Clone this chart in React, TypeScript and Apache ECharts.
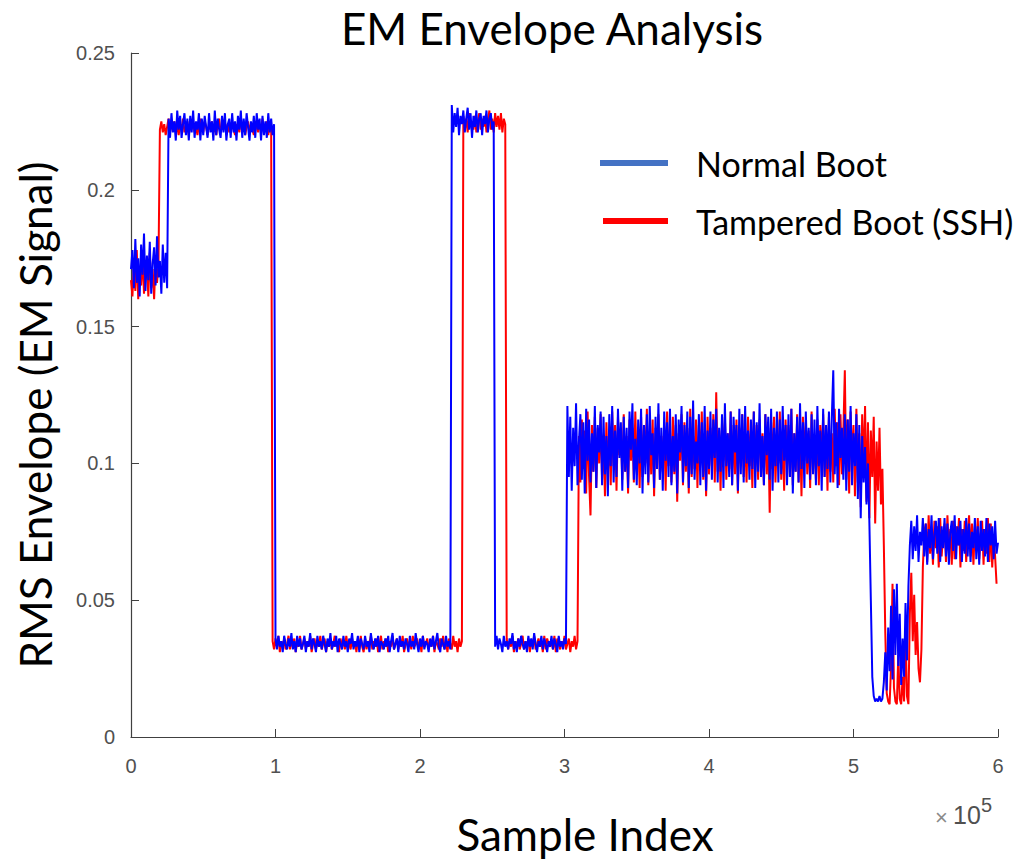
import React, { useEffect, useRef } from "react";
import * as echarts from "echarts";

// Sample index step (samples between consecutive envelope readings)
const STEP = 1000;
const X_MAX = 600000;
const X_INTERVAL = 100000;
const Y_MAX = 0.25;
const Y_INTERVAL = 0.05;

const TITLE = "EM Envelope Analysis";
const X_NAME = "Sample Index";
const Y_NAME = "RMS Envelope (EM Signal)";
const SERIES_NAMES = ["Normal Boot", "Tampered Boot (SSH)"];

// ---- Normal Boot: each segment starts at blueStarts[i], one reading every STEP samples
const blueSeg1: number[] = [
  0.171, 0.178, 0.164, 0.182, 0.166, 0.175, 0.161, 0.180, 0.169, 0.184,
  0.163, 0.176, 0.167, 0.181, 0.162, 0.173, 0.179, 0.165, 0.183, 0.168,
  0.174, 0.162, 0.180, 0.166, 0.177, 0.164,
];
const blueSeg2: number[] = [
  0.226, 0.219, 0.228, 0.221, 0.225, 0.218, 0.229, 0.222, 0.227, 0.219,
  0.224, 0.228, 0.220, 0.226, 0.218, 0.227, 0.221, 0.229, 0.219, 0.225,
  0.222, 0.228, 0.218, 0.226, 0.220, 0.227, 0.223, 0.219, 0.228, 0.221,
  0.225, 0.218, 0.229, 0.220, 0.226, 0.222, 0.219, 0.227, 0.221, 0.228,
  0.218, 0.224, 0.226, 0.219, 0.228, 0.221, 0.225, 0.218, 0.227, 0.222,
  0.229, 0.219, 0.226, 0.220, 0.228, 0.223, 0.218, 0.225, 0.221, 0.227,
  0.219, 0.228, 0.222, 0.226, 0.218, 0.227, 0.220, 0.225, 0.219, 0.228,
  0.221, 0.226, 0.220, 0.224,
];
const blueSeg3: number[] = [
  0.036, 0.032, 0.037, 0.033, 0.035, 0.031, 0.037, 0.034, 0.032, 0.036,
  0.033, 0.038, 0.032, 0.035, 0.031, 0.037, 0.033, 0.036, 0.032, 0.034,
  0.037, 0.031, 0.035, 0.033, 0.038, 0.032, 0.036, 0.034, 0.031, 0.037,
  0.033, 0.035, 0.032, 0.037, 0.034, 0.031, 0.036, 0.033, 0.038, 0.032,
  0.035, 0.033, 0.037, 0.031, 0.036, 0.034, 0.032, 0.037, 0.033, 0.035,
  0.031, 0.036, 0.034, 0.038, 0.032, 0.035, 0.033, 0.037, 0.031, 0.036,
  0.034, 0.032, 0.037, 0.033, 0.035, 0.031, 0.038, 0.034, 0.032, 0.036,
  0.033, 0.037, 0.031, 0.035, 0.034, 0.032, 0.036, 0.033, 0.037, 0.031,
  0.035, 0.038, 0.032, 0.034, 0.036, 0.031, 0.037, 0.033, 0.035, 0.032,
  0.036, 0.034, 0.031, 0.037, 0.033, 0.035, 0.032, 0.038, 0.034, 0.031,
  0.036, 0.033, 0.037, 0.032, 0.035, 0.034, 0.031, 0.036, 0.033, 0.037,
  0.032, 0.035, 0.038, 0.033, 0.031, 0.036, 0.034, 0.032, 0.037, 0.033,
  0.035, 0.032,
];
const blueSeg4: number[] = [
  0.231, 0.221, 0.228, 0.223, 0.230, 0.220, 0.227, 0.224, 0.229, 0.221,
  0.226, 0.230, 0.222, 0.228, 0.219, 0.227, 0.223, 0.229, 0.221, 0.226,
  0.228, 0.220, 0.227, 0.224, 0.229, 0.221, 0.226, 0.228, 0.222, 0.225,
];
const blueSeg5: number[] = [
  0.033, 0.037, 0.032, 0.036, 0.034, 0.031, 0.037, 0.033, 0.035, 0.032,
  0.036, 0.034, 0.038, 0.032, 0.035, 0.031, 0.036, 0.033, 0.037, 0.034,
  0.032, 0.035, 0.031, 0.037, 0.033, 0.036, 0.032, 0.038, 0.034, 0.031,
  0.035, 0.033, 0.037, 0.032, 0.036, 0.034, 0.031, 0.035, 0.033, 0.037,
  0.032, 0.036, 0.034, 0.031, 0.037, 0.033, 0.035, 0.032, 0.036, 0.034,
];
const blueSeg6: number[] = [
  0.121, 0.095, 0.117, 0.090, 0.113, 0.099, 0.122, 0.092, 0.108, 0.118,
  0.094, 0.115, 0.089, 0.120, 0.101, 0.116, 0.093, 0.111, 0.097, 0.121,
  0.091, 0.114, 0.104, 0.119, 0.092, 0.117, 0.096, 0.110, 0.088, 0.118,
  0.099, 0.121, 0.093, 0.112, 0.095, 0.120, 0.102, 0.115, 0.090, 0.117,
  0.097, 0.113, 0.091, 0.119, 0.105, 0.122, 0.094, 0.109, 0.092, 0.116,
  0.100, 0.120, 0.089, 0.114, 0.096, 0.118, 0.093, 0.121, 0.103, 0.111,
  0.091, 0.117, 0.098, 0.122, 0.094, 0.113, 0.090, 0.119, 0.101, 0.115,
  0.095, 0.120, 0.092, 0.110, 0.097, 0.118, 0.089, 0.116, 0.104, 0.121,
  0.093, 0.114, 0.099, 0.119, 0.091, 0.117, 0.096, 0.123, 0.094, 0.108,
  0.100, 0.118, 0.092, 0.115, 0.095, 0.121, 0.090, 0.112, 0.098, 0.119,
  0.094, 0.116, 0.102, 0.120, 0.093, 0.113, 0.097, 0.118, 0.091, 0.122,
  0.099, 0.111, 0.095, 0.119, 0.092, 0.117, 0.104, 0.114, 0.090, 0.120,
  0.096, 0.118, 0.093, 0.121, 0.100, 0.112, 0.094, 0.116, 0.098, 0.119,
  0.091, 0.115, 0.097, 0.122, 0.095, 0.110, 0.092, 0.118, 0.103, 0.117,
  0.094, 0.120, 0.090, 0.113, 0.099, 0.119, 0.093, 0.116, 0.096, 0.121,
  0.101, 0.114, 0.092, 0.118, 0.095, 0.120, 0.089, 0.111, 0.097, 0.117,
  0.093, 0.122, 0.098, 0.115, 0.091, 0.119, 0.100, 0.113, 0.094, 0.118,
  0.096, 0.116, 0.092, 0.121, 0.099, 0.112, 0.090, 0.120, 0.095, 0.114,
  0.098, 0.119, 0.093, 0.117, 0.134, 0.096, 0.115, 0.091, 0.120, 0.102,
  0.113, 0.094, 0.118, 0.090, 0.116, 0.097, 0.121, 0.092, 0.111, 0.099,
  0.118, 0.087, 0.114, 0.080, 0.110, 0.093, 0.106, 0.085,
  0.100, 0.078, 0.050, 0.022, 0.015, 0.013, 0.014, 0.013, 0.015, 0.013,
  0.014, 0.020, 0.031, 0.017, 0.040, 0.024, 0.048, 0.021, 0.054, 0.030,
  0.056, 0.026, 0.045, 0.019, 0.036, 0.022, 0.049, 0.028, 0.055, 0.070,
];
const blueSeg7: number[] = [
  0.079, 0.065, 0.077, 0.068, 0.081, 0.064, 0.075, 0.070, 0.080, 0.066,
  0.078, 0.063, 0.076, 0.069, 0.081, 0.065, 0.074, 0.079, 0.067, 0.080,
  0.064, 0.077, 0.069, 0.080, 0.066, 0.078, 0.063, 0.075, 0.079, 0.068,
  0.081, 0.065, 0.077, 0.070, 0.079, 0.064, 0.076, 0.067, 0.080, 0.066,
  0.078, 0.064, 0.075, 0.069, 0.080, 0.065, 0.077, 0.063, 0.079, 0.068,
  0.076, 0.066, 0.080, 0.064, 0.078, 0.070, 0.077, 0.065, 0.079, 0.067,
  0.071,
];
const blueStarts: number[] = [0, 26000, 100000, 222000, 252000, 302000, 540000];
const blueSegs: number[][] = [blueSeg1, blueSeg2, blueSeg3, blueSeg4, blueSeg5, blueSeg6, blueSeg7];

// ---- Tampered Boot (SSH)
const redSeg1: number[] = [
  0.167, 0.161, 0.174, 0.163, 0.178, 0.160, 0.170, 0.165, 0.176, 0.162,
  0.169, 0.173, 0.161, 0.177, 0.164, 0.171, 0.160, 0.175, 0.166, 0.172,
];
const redSeg2: number[] = [
  0.222, 0.225, 0.221, 0.224, 0.220, 0.223, 0.226, 0.221, 0.224, 0.222,
  0.225, 0.221, 0.223, 0.220, 0.224, 0.222, 0.226, 0.221, 0.223, 0.225,
  0.220, 0.224, 0.222, 0.225, 0.221, 0.223, 0.220, 0.224, 0.226, 0.222,
  0.221, 0.225, 0.223, 0.220, 0.224, 0.222, 0.225, 0.221, 0.223, 0.220,
  0.224, 0.226, 0.221, 0.223, 0.222, 0.225, 0.220, 0.224, 0.221, 0.223,
  0.225, 0.222, 0.220, 0.224, 0.223, 0.221, 0.226, 0.222, 0.224, 0.220,
  0.223, 0.225, 0.221, 0.224, 0.222, 0.220, 0.225, 0.223, 0.221, 0.224,
  0.222, 0.226, 0.221, 0.223, 0.225, 0.220, 0.224, 0.222,
];
const redSeg3: number[] = [
  0.035, 0.032, 0.036, 0.033, 0.037, 0.031, 0.035, 0.033, 0.036, 0.032,
  0.034, 0.037, 0.032, 0.035, 0.033, 0.036, 0.031, 0.035, 0.033, 0.037,
  0.032, 0.034, 0.036, 0.032, 0.035, 0.033, 0.037, 0.031, 0.034, 0.036,
  0.032, 0.035, 0.033, 0.037, 0.032, 0.034, 0.036, 0.031, 0.035, 0.033,
  0.036, 0.032, 0.034, 0.037, 0.033, 0.035, 0.031, 0.036, 0.033, 0.035,
  0.032, 0.037, 0.033, 0.034, 0.032, 0.036, 0.033, 0.035, 0.031, 0.036,
  0.032, 0.037, 0.033, 0.031, 0.036, 0.032, 0.035, 0.034, 0.037, 0.032,
  0.035, 0.033, 0.036, 0.031, 0.034, 0.037, 0.032, 0.035, 0.033, 0.036,
  0.031, 0.035, 0.033, 0.037, 0.032, 0.034, 0.036, 0.032, 0.035, 0.033,
  0.037, 0.031, 0.034, 0.036, 0.033, 0.035, 0.032, 0.037, 0.033, 0.034,
  0.036, 0.032, 0.035, 0.031, 0.037, 0.033, 0.034, 0.036, 0.032, 0.035,
  0.033, 0.037, 0.031, 0.035, 0.034, 0.032, 0.036, 0.033, 0.037, 0.032,
  0.035, 0.031, 0.036, 0.034, 0.032, 0.037, 0.033, 0.035, 0.031, 0.036,
  0.033, 0.035,
];
const redSeg4: number[] = [
  0.227, 0.222, 0.226, 0.221, 0.228, 0.223, 0.225, 0.222, 0.227, 0.221,
  0.224, 0.228, 0.222, 0.226, 0.223, 0.227, 0.221, 0.225, 0.229, 0.222,
  0.226, 0.221, 0.228, 0.223, 0.227, 0.222, 0.228, 0.221, 0.226, 0.224,
];
const redSeg5: number[] = [
  0.036, 0.032, 0.035, 0.033, 0.037, 0.031, 0.035, 0.033, 0.036, 0.032,
  0.034, 0.037, 0.032, 0.035, 0.033, 0.036, 0.031, 0.035, 0.033, 0.037,
  0.032, 0.034, 0.036, 0.033, 0.035, 0.031, 0.037, 0.032, 0.036, 0.034,
  0.033, 0.035, 0.032, 0.037, 0.031, 0.036, 0.034, 0.032, 0.035, 0.033,
  0.037, 0.032, 0.034, 0.036, 0.031, 0.035, 0.033, 0.037, 0.032, 0.035,
];
const redSeg6: number[] = [
  0.110, 0.093, 0.116, 0.098, 0.112, 0.089, 0.119, 0.095, 0.081, 0.114,
  0.097, 0.117, 0.091, 0.113, 0.100, 0.118, 0.094, 0.109, 0.088, 0.115,
  0.096, 0.112, 0.092, 0.119, 0.099, 0.114, 0.090, 0.117, 0.103, 0.111,
  0.094, 0.118, 0.097, 0.110, 0.089, 0.116, 0.101, 0.113, 0.093, 0.119,
  0.098, 0.111, 0.091, 0.117, 0.095, 0.114, 0.100, 0.120, 0.092, 0.112,
  0.096, 0.116, 0.088, 0.113, 0.102, 0.118, 0.094, 0.110, 0.097, 0.115,
  0.090, 0.119, 0.099, 0.112, 0.093, 0.117, 0.096, 0.114, 0.086, 0.111,
  0.101, 0.118, 0.092, 0.115, 0.097, 0.113, 0.089, 0.120, 0.095, 0.110,
  0.098, 0.116, 0.091, 0.114, 0.100, 0.119, 0.094, 0.111, 0.088, 0.117,
  0.096, 0.113, 0.099, 0.118, 0.093, 0.126, 0.097, 0.112, 0.090, 0.115,
  0.101, 0.117, 0.094, 0.111, 0.098, 0.119, 0.092, 0.114, 0.096, 0.116,
  0.089, 0.113, 0.100, 0.118, 0.095, 0.110, 0.093, 0.117, 0.099, 0.112,
  0.091, 0.119, 0.097, 0.114, 0.094, 0.116, 0.101, 0.111, 0.092, 0.118,
  0.096, 0.113, 0.082, 0.115, 0.098, 0.117, 0.093, 0.110, 0.100, 0.119,
  0.094, 0.112, 0.090, 0.116, 0.099, 0.114, 0.095, 0.120, 0.092, 0.111,
  0.097, 0.118, 0.093, 0.113, 0.088, 0.117, 0.101, 0.115, 0.096, 0.112,
  0.091, 0.119, 0.098, 0.110, 0.094, 0.116, 0.092, 0.114, 0.100, 0.118,
  0.095, 0.113, 0.090, 0.117, 0.097, 0.111, 0.093, 0.120, 0.099, 0.115,
  0.092, 0.118, 0.096, 0.112, 0.134, 0.094, 0.116, 0.089, 0.119, 0.100,
  0.114, 0.088, 0.120, 0.093, 0.111, 0.084, 0.118, 0.097, 0.121, 0.086,
  0.115, 0.080, 0.112, 0.095, 0.117, 0.078, 0.108, 0.090, 0.113, 0.085,
  0.098, 0.070, 0.038, 0.016, 0.013, 0.012, 0.026, 0.056, 0.018, 0.013,
  0.012, 0.030, 0.014, 0.012, 0.022, 0.013, 0.040, 0.015, 0.012, 0.045,
  0.060, 0.035, 0.052, 0.030, 0.042, 0.025, 0.020, 0.032, 0.062, 0.075,
];
const redSeg7: number[] = [
  0.078, 0.064, 0.081, 0.067, 0.075, 0.063, 0.079, 0.069, 0.077, 0.062,
  0.080, 0.066, 0.074, 0.078, 0.064, 0.081, 0.068, 0.076, 0.063, 0.079,
  0.065, 0.077, 0.070, 0.080, 0.062, 0.076, 0.068, 0.079, 0.064, 0.075,
  0.081, 0.066, 0.078, 0.063, 0.077, 0.069, 0.080, 0.065, 0.074, 0.079,
  0.063, 0.076, 0.067, 0.080, 0.064, 0.078, 0.062, 0.073, 0.066, 0.056,
];
const redStarts: number[] = [0, 20000, 98000, 230000, 260000, 310000, 550000];
const redSegs: number[][] = [redSeg1, redSeg2, redSeg3, redSeg4, redSeg5, redSeg6, redSeg7];

function buildSeries(starts: number[], segs: number[][]): [number, number][] {
  const out: [number, number][] = [];
  segs.forEach((vals, s) => {
    vals.forEach((v, k) => out.push([starts[s] + k * STEP, v]));
  });
  return out;
}

const LABEL_FONT = "Lato, 'Open Sans', sans-serif";
const TICK_FONT = "'Liberation Sans', Arial, sans-serif";

export default function App() {
  const ref = useRef<HTMLDivElement>(null);
  useEffect(() => {
    if (!ref.current) return;
    const chart = echarts.init(ref.current, undefined, { renderer: "svg" });
    const blueData = buildSeries(blueStarts, blueSegs);
    const redData = buildSeries(redStarts, redSegs);
    const axisColor = "#404040";
    const tickColor = "#505050";
    const txt = (text: string, x: number, y: number, font: string, fill: string, align: string, rotation = 0) => ({
      type: "text",
      x,
      y,
      rotation,
      silent: true,
      style: {
        text,
        font,
        fill,
        align,
        verticalAlign: "middle",
        textAlign: align,
        textVerticalAlign: "middle",
      },
    });
    chart.setOption({
      animation: false,
      backgroundColor: "#ffffff",
      grid: { left: 131, right: 27, top: 53, bottom: 125, containLabel: false },
      xAxis: {
        type: "value",
        min: 0,
        max: X_MAX,
        interval: X_INTERVAL,
        axisLine: { show: true, lineStyle: { color: axisColor, width: 1.2 } },
        axisTick: { show: true, inside: true, length: 8, lineStyle: { color: axisColor } },
        axisLabel: {
          margin: 19,
          color: tickColor,
          fontSize: 20,
          fontFamily: TICK_FONT,
          formatter: (v: number) => String(Math.round(v / X_INTERVAL)),
        },
        splitLine: { show: false },
      },
      yAxis: {
        type: "value",
        min: 0,
        max: Y_MAX,
        interval: Y_INTERVAL,
        axisLine: { show: true, lineStyle: { color: axisColor, width: 1.2 } },
        axisTick: { show: true, inside: true, length: 8, lineStyle: { color: axisColor } },
        axisLabel: {
          margin: 16,
          color: tickColor,
          fontSize: 20,
          fontFamily: TICK_FONT,
          formatter: (v: number) => String(Math.round(v * 100) / 100),
        },
        splitLine: { show: false },
      },
      series: [
        {
          name: SERIES_NAMES[1],
          type: "line",
          data: redData,
          showSymbol: false,
          symbol: "none",
          lineStyle: { color: "#ff0000", width: 2 },
          itemStyle: { color: "#ff0000" },
          emphasis: { disabled: true },
        },
        {
          name: SERIES_NAMES[0],
          type: "line",
          data: blueData,
          showSymbol: false,
          symbol: "none",
          lineStyle: { color: "#0000ff", width: 2 },
          itemStyle: { color: "#0000ff" },
          emphasis: { disabled: true },
        },
      ],
      graphic: [
        txt(TITLE, 552, 28, `44px ${LABEL_FONT}`, "#000", "center"),
        txt(X_NAME, 585, 834, `44px ${LABEL_FONT}`, "#000", "center"),
        txt(Y_NAME, 35, 415, `44px ${LABEL_FONT}`, "#000", "center", Math.PI / 2),
        txt("×", 935, 817, `22px ${TICK_FONT}`, "#8a8a8a", "left"),
        txt("10", 953, 815, `25px ${TICK_FONT}`, tickColor, "left"),
        txt("5", 981, 805, `20px ${TICK_FONT}`, tickColor, "left"),
        { type: "rect", silent: true, shape: { x: 600, y: 160, width: 68, height: 6 }, style: { fill: "#4472C4" } },
        { type: "rect", silent: true, shape: { x: 603, y: 218, width: 65, height: 6 }, style: { fill: "#FF0000" } },
        txt(SERIES_NAMES[0], 696, 163, `34px ${LABEL_FONT}`, "#000", "left"),
        txt(SERIES_NAMES[1], 696, 221, `34px ${LABEL_FONT}`, "#000", "left"),
      ],
    });
    return () => chart.dispose();
  }, []);
  return (
    <div
      ref={ref}
      style={{ position: "fixed", left: 0, top: 0, width: 1025, height: 862, background: "#fff" }}
    />
  );
}
